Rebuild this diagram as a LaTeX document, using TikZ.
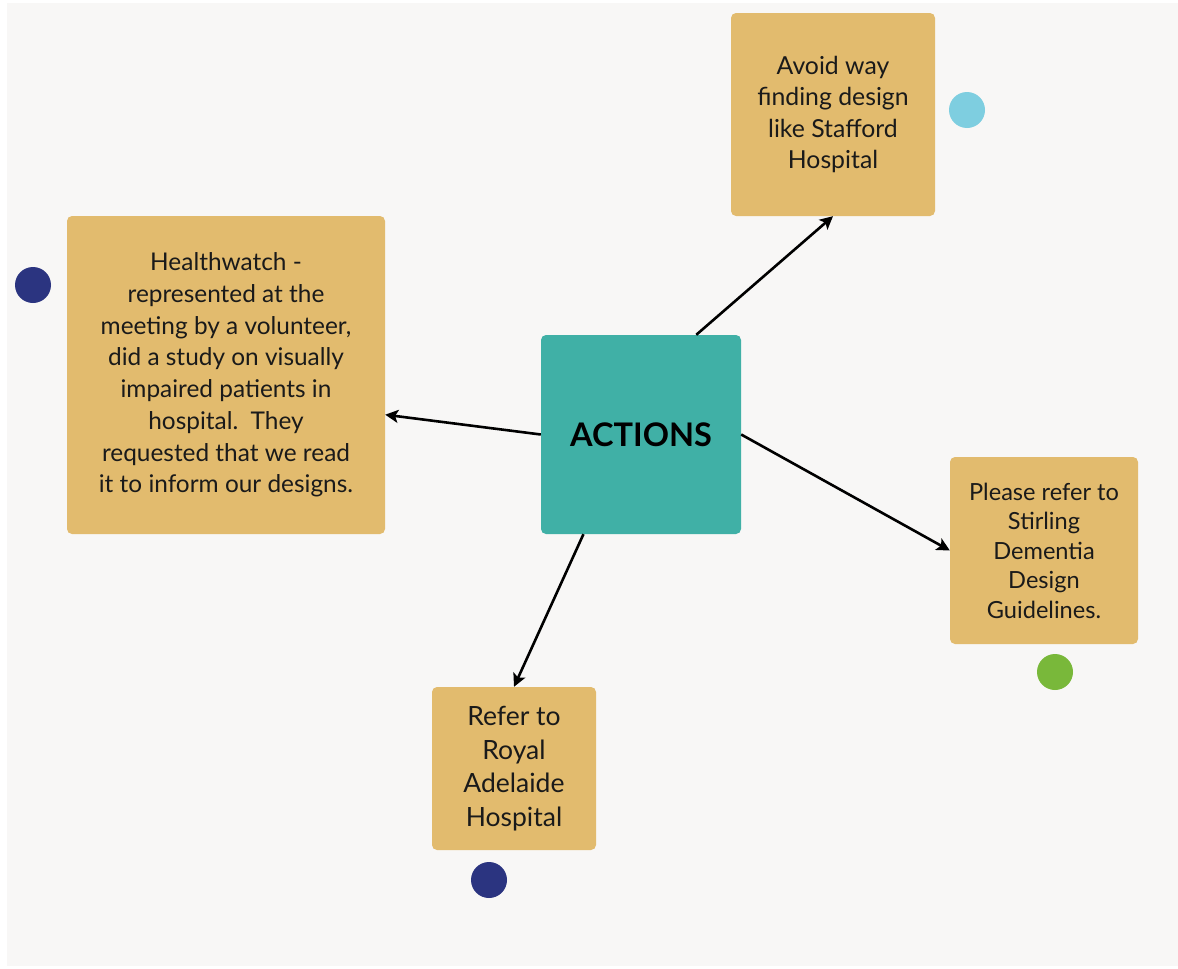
\documentclass[tikz,border=0pt]{standalone}
\usepackage{fontspec}
\setmainfont{Lato}
\usetikzlibrary{arrows.meta}
\definecolor{bgc}{HTML}{F8F7F6}
\definecolor{boxc}{HTML}{E2BB6E}
\definecolor{tealc}{HTML}{40B0A6}
\definecolor{navyc}{HTML}{2B3480}
\definecolor{skyc}{HTML}{7ECEE0}
\definecolor{greenc}{HTML}{79B83A}
\definecolor{inkc}{HTML}{1A1A1A}
\tikzset{
  note/.style={rectangle, rounded corners=5pt, fill=boxc, draw=none, align=center, inner sep=0pt, text=inkc},
  hub/.style={rectangle, rounded corners=5pt, fill=tealc, draw=none, align=center, inner sep=0pt, text=black},
  dot/.style={circle, draw=none, inner sep=0pt, minimum size=36pt},
  link/.style={draw=black, line width=2.6pt, -{Stealth[length=13pt,width=13pt,inset=3pt]}}
}
\begin{document}
\begin{tikzpicture}[x=1pt,y=-1pt]
\useasboundingbox (0,0) rectangle (1178,969);
\fill[bgc] (7,3) rectangle (1178,966);
\node[note, minimum width=204pt, minimum height=203pt, font=\fontsize{24.8}{31.5}\selectfont] (stafford) at (833,114.5)
  {Avoid way\\finding design\\like Stafford\\Hospital};
\node[note, minimum width=318pt, minimum height=318pt, font=\fontsize{24.4}{31.7}\selectfont] (hw) at (226,375)
  {Healthwatch -\\represented at the\\meeting by a volunteer,\\did a study on visually\\impaired patients in\\hospital.\ \ They\\requested that we read\\it to inform our designs.};
\node[hub, minimum width=200pt, minimum height=199pt, font=\fontsize{32.5}{36}\selectfont\bfseries] (act) at (641,434.5)
  {ACTIONS};
\node[note, minimum width=188pt, minimum height=187pt, font=\fontsize{23.6}{29.5}\selectfont] (stirling) at (1044,550.5)
  {Please refer to\\Stirling\\Dementia\\Design\\Guidelines.};
\node[note, minimum width=164pt, minimum height=163pt, font=\fontsize{26.5}{33.7}\selectfont] (royal) at (514,768.5)
  {Refer to\\Royal\\Adelaide\\Hospital};
\node[dot, fill=skyc] (d1) at (967,110) {};
\node[dot, fill=navyc] (d2) at (33,285) {};
\node[dot, fill=greenc] (d3) at (1055,672) {};
\node[dot, fill=navyc] (d4) at (489,880) {};
\draw[link] (act.61) -- (stafford.south);
\draw[link] (act.west) -- (hw.-14.8);
\draw[link] (act.east) -- (stirling.west);
\draw[link] (act.-120.7) -- (royal.north);
\end{tikzpicture}
\end{document}
